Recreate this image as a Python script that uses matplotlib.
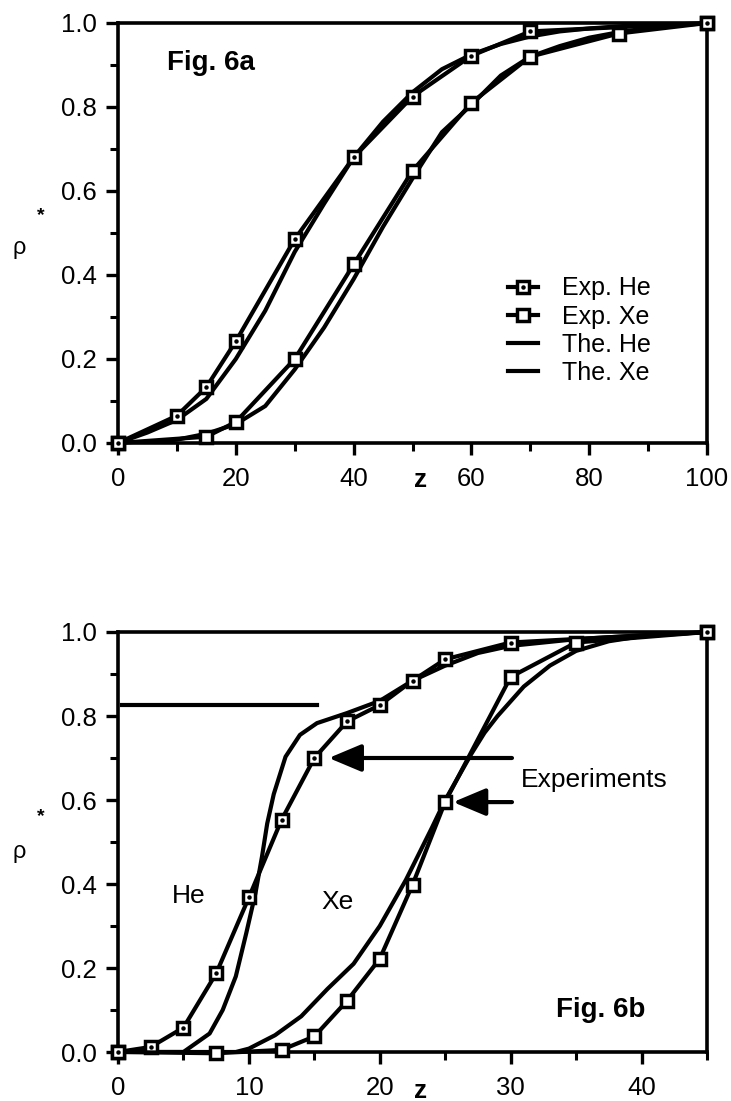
import matplotlib
matplotlib.use("Agg")
import matplotlib.pyplot as plt
from matplotlib.ticker import MultipleLocator, FormatStrFormatter

plt.rcParams['font.family'] = ['Liberation Sans', 'DejaVu Sans']

# --- Fig. 6a data ---
z_he_exp_a = [0, 10, 15, 20, 30, 40, 50, 60, 70, 100]
rho_he_exp_a = [0, 0.065, 0.133, 0.242, 0.485, 0.68, 0.825, 0.922, 0.98, 1.0]
z_xe_exp_a = [0, 15, 20, 30, 40, 50, 60, 70, 85, 100]
rho_xe_exp_a = [0, 0.015, 0.05, 0.2, 0.425, 0.648, 0.81, 0.92, 0.975, 1.0]
z_the_a = [0, 5, 10, 15, 20, 25, 30, 35, 40, 45, 50, 55, 60, 65, 70, 75, 80, 85, 90, 100]
rho_he_the_a = [0, 0.025, 0.055, 0.105, 0.2, 0.315, 0.455, 0.57, 0.68, 0.765,
                0.835, 0.89, 0.925, 0.95, 0.968, 0.98, 0.987, 0.992, 0.996, 1.0]
rho_xe_the_a = [0, 0.002, 0.008, 0.022, 0.045, 0.088, 0.175, 0.275, 0.39, 0.515,
                0.63, 0.74, 0.805, 0.875, 0.92, 0.945, 0.965, 0.978, 0.988, 1.0]

# --- Fig. 6b data ---
z_he_exp_b = [0, 2.5, 5, 7.5, 10, 12.5, 15, 17.5, 20, 22.5, 25, 30, 45]
rho_he_exp_b = [0, 0.012, 0.058, 0.187, 0.368, 0.553, 0.70, 0.787, 0.826, 0.884, 0.935, 0.975, 1.0]
z_xe_exp_b = [0, 7.5, 12.5, 15, 17.5, 20, 22.5, 25, 30, 35, 45]
rho_xe_exp_b = [0, -0.003, 0.005, 0.037, 0.122, 0.222, 0.398, 0.596, 0.893, 0.975, 1.0]
z_he_the_b = [0, 5, 7, 8, 9, 9.8, 10.5, 11, 11.4, 11.9, 12.8, 13.9, 15.2, 17.5,
              20, 22.5, 25, 27.5, 30, 32.5, 35, 40, 45]
rho_he_the_b = [0, 0, 0.044, 0.1, 0.18, 0.283, 0.378, 0.465, 0.544, 0.614, 0.703,
                0.755, 0.783, 0.807, 0.836, 0.884, 0.92, 0.95, 0.967, 0.975, 0.983, 0.992, 1.0]
z_xe_the_b = [0, 9, 10, 12, 14, 16, 18, 20, 22, 24, 25, 26, 27, 28, 29, 30, 31,
              32, 33, 35, 37.5, 40, 45]
rho_xe_the_b = [0, 0, 0.008, 0.04, 0.085, 0.15, 0.21, 0.30, 0.41, 0.535, 0.6, 0.655,
                0.71, 0.76, 0.8, 0.835, 0.87, 0.895, 0.92, 0.955, 0.978, 0.99, 1.0]
marker_line_b = ([0.3, 15.2], [0.826, 0.826])

LW = 3.0
tick_fs = 18.5
text_fs = 19


def style_axes(ax, xmax, xmajor, xminor):
    ax.set_xlim(0, xmax)
    ax.set_ylim(0, 1)
    ax.xaxis.set_major_locator(MultipleLocator(xmajor))
    ax.xaxis.set_minor_locator(MultipleLocator(xminor))
    ax.yaxis.set_major_locator(MultipleLocator(0.2))
    ax.yaxis.set_minor_locator(MultipleLocator(0.1))
    ax.yaxis.set_major_formatter(FormatStrFormatter('%.1f'))
    for s in ax.spines.values():
        s.set_linewidth(2.6)
    ax.tick_params(which='major', direction='out', length=8.5, width=2.4, labelsize=tick_fs)
    ax.tick_params(which='minor', direction='out', length=5.5, width=2.2)
    ax.tick_params(axis='x', which='major', pad=9)
    ax.tick_params(axis='y', which='major', pad=7)


def exp_curve(ax, z, rho, dotted):
    line, = ax.plot(z, rho, '-', color='k', lw=LW, marker='s', ms=9, mfc='white',
                    mec='k', mew=2.5, clip_on=False, zorder=4)
    if dotted:
        dot, = ax.plot(z, rho, 'o', color='k', ms=2.2, clip_on=False, zorder=5)
        return (line, dot)
    return line


fig = plt.figure(figsize=(7.31, 11.01), dpi=100)
ax1 = fig.add_axes([118 / 731, 658 / 1101, 589 / 731, 420 / 1101])
ax2 = fig.add_axes([118 / 731, 49 / 1101, 589 / 731, 420 / 1101])

# Fig. 6a
the_he, = ax1.plot(z_the_a, rho_he_the_a, '-', color='k', lw=LW, zorder=3)
the_xe, = ax1.plot(z_the_a, rho_xe_the_a, '-', color='k', lw=LW, zorder=3)
exp_he = exp_curve(ax1, z_he_exp_a, rho_he_exp_a, True)
exp_xe = exp_curve(ax1, z_xe_exp_a, rho_xe_exp_a, False)
style_axes(ax1, 100, 20, 10)
ax1.text(0.083, 0.905, 'Fig. 6a', transform=ax1.transAxes, fontsize=20,
         fontweight='bold', ha='left', va='center')
ax1.legend([exp_he, exp_xe, the_he, the_xe],
           ['Exp. He', 'Exp. Xe', 'The. He', 'The. Xe'],
           loc='upper left', bbox_to_anchor=(0.662, 0.397), frameon=False,
           fontsize=18, borderpad=0, borderaxespad=0, handlelength=1.2,
           handletextpad=0.95, labelspacing=0.17)
ax1.text(51.3, -0.105, 'z', transform=ax1.get_xaxis_transform(), fontsize=19,
         fontweight='bold', ha='center', va='baseline')

# Fig. 6b
ax2.plot(z_he_the_b, rho_he_the_b, '-', color='k', lw=LW, zorder=3)
ax2.plot(z_xe_the_b, rho_xe_the_b, '-', color='k', lw=LW, zorder=3)
exp_curve(ax2, z_he_exp_b, rho_he_exp_b, True)
exp_curve(ax2, z_xe_exp_b, rho_xe_exp_b, False)
ax2.plot(marker_line_b[0], marker_line_b[1], '-', color='k', lw=LW)
style_axes(ax2, 45, 10, 5)
ax2.text(5.4, 0.371, 'He', fontsize=text_fs, ha='center', va='center')
ax2.text(16.8, 0.357, 'Xe', fontsize=text_fs, ha='center', va='center')
ax2.text(36.4, 0.648, 'Experiments', fontsize=text_fs, ha='center', va='center')
arrow_style = dict(arrowstyle='-|>,head_length=1.0,head_width=0.42', lw=LW,
                   color='k', mutation_scale=20, shrinkA=0, shrinkB=0)
ax2.annotate('', xy=(16.1, 0.70), xytext=(30.1, 0.70), arrowprops=arrow_style)
ax2.annotate('', xy=(25.6, 0.595), xytext=(30.1, 0.595), arrowprops=arrow_style)
ax2.text(0.82, 0.10, 'Fig. 6b', transform=ax2.transAxes, fontsize=20,
         fontweight='bold', ha='center', va='center')
ax2.text(23.1, -0.11, 'z', transform=ax2.get_xaxis_transform(), fontsize=19,
         fontweight='bold', ha='center', va='baseline')

# rho* labels
for yr, ys in [(248, 216), (852, 817)]:
    fig.text(19 / 731, 1 - yr / 1101, 'ρ', fontsize=17, ha='center', va='center')
    fig.text(41 / 731, 1 - ys / 1101, '*', fontsize=14, fontweight='bold',
             ha='center', va='center')

fig.savefig('out.png', dpi=100)
